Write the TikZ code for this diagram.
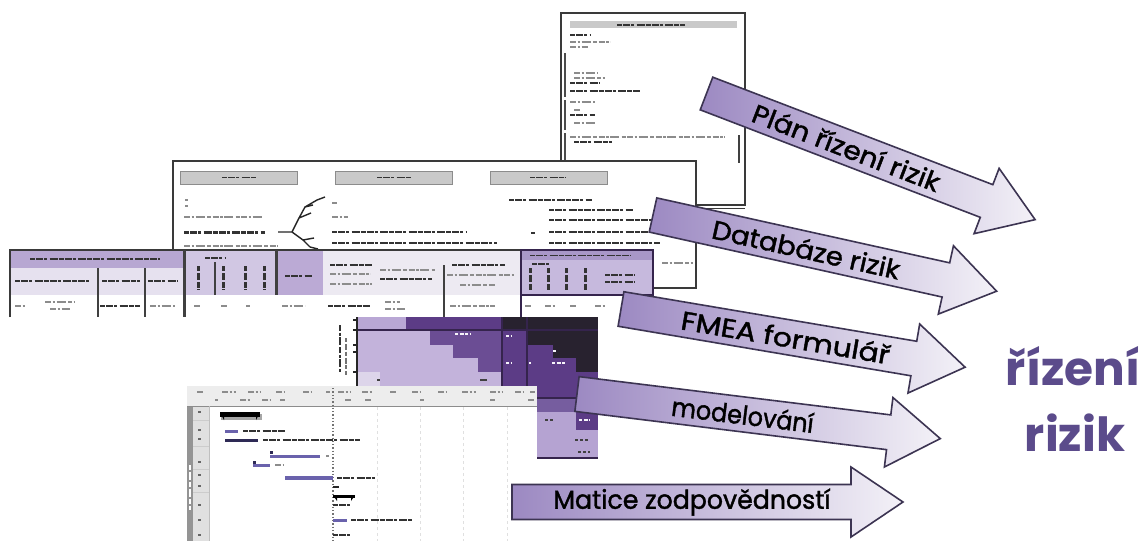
\documentclass[tikz,border=0pt]{standalone}
\usepackage{fontspec}
\setmainfont{Poppins}
\newfontfamily\arrowfont{Poppins}[FakeBold=1.5]
\definecolor{docline}{HTML}{3A3A3A}
\definecolor{hdrgray}{HTML}{C9C9C9}
\definecolor{tpA}{HTML}{B7A7D2}
\definecolor{tpB}{HTML}{E6E1EF}
\definecolor{tpC}{HTML}{D1C7E3}
\definecolor{tpD}{HTML}{BBAAD5}
\definecolor{tpE}{HTML}{EDEAF2}
\definecolor{tpF}{HTML}{C6B9DD}
\definecolor{tpG}{HTML}{A897C8}
\definecolor{mA}{HTML}{B9A7D5}
\definecolor{mB}{HTML}{C3B3DB}
\definecolor{mC}{HTML}{6B4D94}
\definecolor{mD}{HTML}{5C3C86}
\definecolor{mK}{HTML}{28222F}
\definecolor{mL}{HTML}{DDD5EA}
\definecolor{mM}{HTML}{765D9F}
\definecolor{mN}{HTML}{B5A3D2}
\definecolor{mLine}{HTML}{35244D}
\definecolor{gbar}{HTML}{6A62AC}
\definecolor{gbarD}{HTML}{2E2A55}
\definecolor{arrline}{HTML}{3C3452}
\definecolor{arrtail}{HTML}{9C89C2}
\definecolor{arrmid}{HTML}{DCD5E8}
\definecolor{arrhead}{HTML}{F3F1F7}
\definecolor{bigpurple}{HTML}{5B4B8B}
% block arrow: x, y of tail middle, angle, length, text offset, name, x-stretch, text
\newcommand{\riskarrow}[8]{%
  \begin{scope}[shift={(#1,#2)}, rotate=#3]
    \path[arrowbody] (0,-17.5) -- ({#4-52},-17.5) -- ({#4-52},-35) -- (#4,0)
      -- ({#4-52},35) -- ({#4-52},17.5) -- (0,17.5) -- cycle;
    \node[arrowtext, transform shape] (#6) at (#5,0) {\scalebox{#7}[1]{#8}};
  \end{scope}}
\begin{document}
\begin{tikzpicture}[x=1pt,y=-1pt,
  scrib/.style={draw=black!45, line width=2pt,
    dash pattern=on 6pt off 1.5pt on 2.5pt off 1.5pt on 9pt off 2.5pt on 4pt off 1.5pt},
  scribd/.style={draw=black!80, line width=2.4pt,
    dash pattern=on 5pt off 1pt on 7pt off 1pt on 3pt off 2.5pt on 8pt off 1pt},
  scribw/.style={draw=white!85!mB, line width=2pt,
    dash pattern=on 3pt off 1.5pt on 4pt off 1.5pt},
  frame/.style={draw=docline, line width=1.8pt, fill=white},
  hdrbox/.style={draw=black!45, line width=1pt, fill=hdrgray},
  divider/.style={draw=black!75, line width=2pt},
  mline/.style={draw=mLine, line width=2pt},
  arrowbody/.style={draw=arrline, line width=1.6pt, left color=arrtail,
    middle color=arrmid, right color=arrhead},
  arrowtext/.style={font=\arrowfont\fontsize{26}{26}\selectfont, text=black, inner sep=0pt},
  bigtext/.style={font=\fontsize{47}{47}\selectfont\bfseries, text=bigpurple, inner sep=0pt, anchor=base}]
\useasboundingbox[fill=white] (0,0) rectangle (1144,541);

% ---------- risk management plan sheet ----------
\path[frame] (561,13) rectangle (745,205);
\draw[docline, line width=1pt] (561,208.5) -- (745,208.5);
\path[hdrbox, draw=none] (570,21) rectangle (737,28);
\draw[scribd, line width=2pt] (617,24.5) -- (685,24.5);
\draw[scribd, line width=2pt] (570,35) -- (590,35);
\draw[scrib, line width=1.6pt] (570,42) -- (610,42);
\draw[scrib, line width=1.6pt] (570,47) -- (588,47);
\foreach \ya/\yb in {53/97,100/130,133/160}
  \draw[black!70, line width=1.5pt] (565,\ya) -- (565,\yb);
\draw[scrib, line width=1.6pt] (574,73) -- (598,73);
\draw[scrib, line width=1.6pt] (574,78) -- (605,78);
\draw[scribd, line width=2pt] (570,83) -- (600,83);
\draw[scribd, line width=1.8pt] (570,91) -- (640,91);
\draw[scrib, line width=1.6pt] (570,102) -- (595,102);
\draw[scrib, line width=1.6pt] (574,110) -- (580,110);
\draw[scribd, line width=1.8pt] (570,115) -- (595,115);
\draw[scrib, line width=1.6pt] (574,123) -- (595,123);
\draw[scrib, line width=1.6pt] (570,137) -- (725,137);
\draw[scribd, line width=1.8pt] (574,142) -- (612,142);
\draw[black!75, line width=2pt] (739,135) -- (739,163);

% ---------- risk response options sheet ----------
\path[frame, line width=2pt] (173,161) rectangle (696,288);
\path[hdrbox] (180,171) rectangle (297,184);
\path[hdrbox] (335,171) rectangle (452,184);
\path[hdrbox] (490,171) rectangle (607,184);
\draw[scribd, line width=1.6pt] (222,177.5) -- (256,177.5);
\draw[scribd, line width=1.6pt] (377,177.5) -- (411,177.5);
\draw[scribd, line width=1.6pt] (530,177.5) -- (566,177.5);
\draw[scrib, line width=1.4pt] (185,200) -- (188,200);
\draw[scrib, line width=1.4pt] (185,206) -- (188,206);
\draw[scrib] (184,217) -- (262,217);
\draw[scribd, line width=3pt] (184,232) -- (265,232);
\draw[scrib] (184,246) -- (278,246);
% small decision tree
\draw[black!85, line width=1.4pt] (278,232) -- (292,232)
  (292,232) -- (299,218) -- (305,207) -- (317,200)
  (299,218) -- (311,213) (305,207) -- (313,205)
  (292,232) -- (303,240) -- (310,247) (303,240) -- (314,238)
  (310,247) -- (318,249) (317,200) -- (325,197);
\draw[scrib, line width=1.4pt] (332,203) -- (337,203);
\draw[scrib] (332,217) -- (348,217);
\draw[scribd, line width=2pt] (332,232) -- (466,232);
\draw[scribd, line width=1.8pt] (332,243) -- (497,243);
\draw[scribd] (509,200) -- (592,200);
\draw[scribd, line width=2pt] (549,210) -- (633,210);
\draw[scribd, line width=2.8pt] (549,220) -- (660,220);
\draw[scribd, line width=2.8pt] (549,232) -- (660,232);
\draw[scribd, line width=2pt] (549,243) -- (660,243);
\draw[scrib] (662,263) -- (693,263);
\draw[black!80, line width=1.5pt] (531,233) -- (535,233);

% ---------- FMEA form ----------
\fill[white] (8,250) rectangle (653,317);
\fill[tpA] (10,250) rectangle (184,268);
\fill[tpB] (10,268) rectangle (184,295);
\fill[tpC] (184,250) rectangle (276,295);
\fill[tpD] (276,250) rectangle (323,295);
\fill[tpE] (323,250) rectangle (521,295);
\fill[tpF] (521,250) rectangle (653,295);
\fill[tpG] (521,251) rectangle (653,260);
\draw[docline, line width=1.6pt] (10,317) -- (10,250) -- (653,250);
\draw[scribd, line width=1.8pt] (30,259) -- (160,259);
\draw[scribd, line width=1.8pt] (15,281) -- (90,281);
\draw[scribd, line width=2.4pt] (102,281) -- (140,281);
\draw[scribd, line width=1.8pt] (148,281) -- (178,281);
\draw[scribd, line width=1.8pt] (205,258) -- (226,258);
\foreach \x in {198,223,245,264}
  \draw[black!80, line width=3pt, dash pattern=on 5pt off 2pt on 7pt off 2pt on 6pt off 1pt] (\x,266) -- (\x,290);
\draw[scribd, line width=1.8pt] (285,276) -- (312,276);
\draw[scribd, line width=2.4pt] (330,265) -- (372,265);
\draw[scrib] (330,274) -- (370,274);
\draw[scrib] (330,284) -- (372,284);
\draw[scrib] (380,270) -- (435,270);
\draw[scribd, line width=2.4pt] (380,279) -- (432,279);
\draw[scribd, line width=2.4pt] (452,265) -- (505,265);
\draw[scrib] (447,275) -- (515,275);
\draw[scrib] (460,285) -- (495,285);
\draw[scribd, line width=1.6pt] (530,255.5) -- (630,255.5);
\draw[scribd, line width=1.8pt] (532,264) -- (550,264);
\foreach \x in {530,548,566,585}
  \draw[black!80, line width=3pt, dash pattern=on 5pt off 2pt on 7pt off 2pt on 6pt off 1pt] (\x,268) -- (\x,290);
\draw[scribd, line width=2pt] (605,275) -- (635,275);
\draw[scribd, line width=2pt] (605,282) -- (635,282);
\draw[draw=mLine, line width=2.6pt] (521,317) -- (521,250) -- (653,250) -- (653,295) -- (521,295);
\foreach \x/\ya/\yb in {98/268/317, 145/268/317, 215/262/295, 444/265/317}
  \draw[divider] (\x,\ya) -- (\x,\yb);
\draw[divider, line width=3pt] (184,250) -- (184,317);
\draw[divider, line width=3pt] (276,250) -- (276,295);
\foreach \xa/\xb/\y in {15/25/306, 45/75/302, 50/70/309, 150/175/306, 194/200/306,
    221/228/306, 246/250/306, 282/305/306, 385/400/302, 385/405/309, 450/495/306,
    525/532/306, 545/555/306, 570/576/306, 595/606/306}
  \draw[scrib, line width=1.8pt] (\xa,\y) -- (\xb,\y);
\draw[scribd, line width=2.4pt] (100,306) -- (140,306);
\draw[scribd, line width=2pt] (328,306) -- (370,306);

% ---------- risk matrix ----------
\foreach \xa/\ya/\xb/\yb/\c in {
   357/317/406/330/mA, 406/317/502/330/mD, 502/317/598/330/mK,
   357/330/430/345/mB, 430/330/502/345/mC, 502/330/527/345/mD, 527/330/598/345/mK,
   357/345/453/358/mB, 453/345/502/358/mC, 502/345/553/358/mD, 553/345/598/358/mK,
   357/358/478/372/mB, 478/358/502/372/mC, 502/358/576/372/mD, 576/358/598/372/mK,
   357/372/380/387/mL, 380/372/502/387/mB, 502/372/598/398/mD,
   537/398/598/412/mM, 537/412/576/430/mN, 576/412/598/430/mD, 537/430/598/458/mN}
  \fill[\c] (\xa,\ya) rectangle (\xb,\yb);
\draw[mline] (357,330) -- (598,330);
\draw[mline, line width=1.5pt] (537,398) -- (598,398);
\draw[mline] (537,458) -- (598,458);
\draw[mline, line width=1.5pt] (502,317) -- (502,387);
\draw[mline] (527,317) -- (527,387);
\draw[black!85, line width=2pt] (357,317) -- (357,387);
\foreach \y in {320,330,345,352,372}
  \draw[black!85, line width=1.4pt] (353,\y) -- (357,\y);
\draw[black!80, line width=2.4pt, dash pattern=on 6pt off 1.5pt on 3pt off 1.5pt on 8pt off 2pt] (340,325) -- (340,372);
\draw[black!55, line width=2pt, dash pattern=on 4pt off 2pt on 6pt off 1.5pt] (346,338) -- (346,375);
\draw[scribw] (455,334) -- (470,334);
\draw[scribw] (506,336) -- (512,336);
\draw[scribw] (506,363) -- (512,363);
\draw[scribw] (529,363) -- (531,363);
\draw[scribw] (553,351) -- (556,351);
\draw[scribw] (552,363) -- (565,363);
\draw[scribw] (579,420) -- (590,420);
\draw[black!75, line width=1.8pt] (377,380) -- (380,380) (480,380) -- (487,380);
\draw[black!75, line width=2pt, dash pattern=on 3pt off 2pt] (545,420) -- (553,420) (575,440) -- (588,440) (578,452) -- (590,452);

% ---------- project schedule (Gantt) ----------
\fill[white] (187,386) rectangle (537,541);
\fill[black!7] (187,386) rectangle (537,406);
\fill[black!12] (187,406) rectangle (209,541);
\fill[black!42] (187,406) rectangle (193,541);
\draw[black!45, line width=1.5pt] (187,406.5) -- (537,406.5);
\draw[black!25, line width=0.8pt] (209,406) -- (209,541);
\foreach \xa/\xb in {197/203, 222/236, 248/260, 276/284, 303/312, 326/330, 338/350, 362/372,
    390/396, 412/420, 438/446, 462/476, 490/502, 515/524, 530/535}
  \draw[scrib, line width=1.6pt] (\xa,392) -- (\xb,392);
\foreach \xa/\xb in {215/218, 240/250, 262/270, 280/285, 345/352, 365/372, 420/424, 490/495, 528/535}
  \draw[scrib, line width=1.4pt] (\xa,400) -- (\xb,400);
\foreach \x in {377,420,463,507}
  \draw[black!12, dashed, line width=0.8pt] (\x,407) -- (\x,541);
\draw[black!55, dotted, line width=1.3pt] (333,388) -- (333,541);
\foreach \y in {412,430,439,462,475,486,505,520,535}
  \draw[black!60, line width=1.4pt] (198,\y) -- (201,\y);
\foreach \y in {420,446,469,492}
  \draw[black!20, line width=0.6pt] (193,\y) -- (209,\y);
\draw[white, line width=2pt, dash pattern=on 5pt off 2pt on 8pt off 2pt] (190,465) -- (190,510);
% summary and task bars
\fill[black!35] (221,414) rectangle (262,420);
\fill[black] (220,412) rectangle (260,417);
\fill[black] (220,412) -- (224,420) -- (224,412) -- cycle;
\fill[black] (260,412) -- (256,420) -- (256,412) -- cycle;
\fill[gbar] (225,430) rectangle (238,433);
\draw[scribd, line width=1.6pt] (243,431) -- (285,431);
\fill[gbarD] (225,438.5) rectangle (258,441.5);
\draw[scribd, line width=1.6pt] (263,440) -- (360,440);
\fill[gbar] (270,455) rectangle (320,458);
\fill[gbarD] (270,451) rectangle (273,454);
\draw[scrib, line width=1.4pt] (326,456) -- (329,456);
\fill[gbar] (253,464) rectangle (270,467);
\fill[gbarD] (253,461) rectangle (256,463.5);
\draw[scrib, line width=1.4pt] (275,465) -- (283,465);
\fill[gbar] (285,476) rectangle (333,480);
\draw[scribd, line width=1.6pt] (337,478) -- (375,478);
\draw[black!85, line width=2.2pt] (333,487) -- (339,487);
\fill[black] (333,495) rectangle (355,498);
\fill[black] (333,495) -- (337,501) -- (337,495) -- cycle;
\fill[black] (355,495) -- (351,501) -- (351,495) -- cycle;
\draw[scribd, line width=1.6pt] (333,505) -- (352,505);
\fill[gbar] (333,519) rectangle (347,522);
\draw[scribd, line width=1.6pt] (351,520) -- (412,520);
\draw[scribd, line width=1.6pt] (333,535) -- (352,535);

% ---------- arrows towards risk management ----------
\riskarrow{706.5}{93.5}{-21}{352}{150}{plan}{1.08}{Plán řízení rizik}
\riskarrow{653}{215}{-12.5}{352}{157}{db}{1.06}{Databáze rizik}
\riskarrow{621}{309}{-9.6}{349}{167}{fmea}{1.14}{FMEA formulář}
\riskarrow{577}{394}{-7}{366}{167}{model}{0.92}{modelování}
\riskarrow{512}{502}{0}{391}{180}{raci}{0.97}{Matice zodpovědností}

\node[bigtext] (goal1) at (1073,385) {řízení};
\node[bigtext] (goal2) at (1075,451) {rizik};
\end{tikzpicture}
\end{document}
